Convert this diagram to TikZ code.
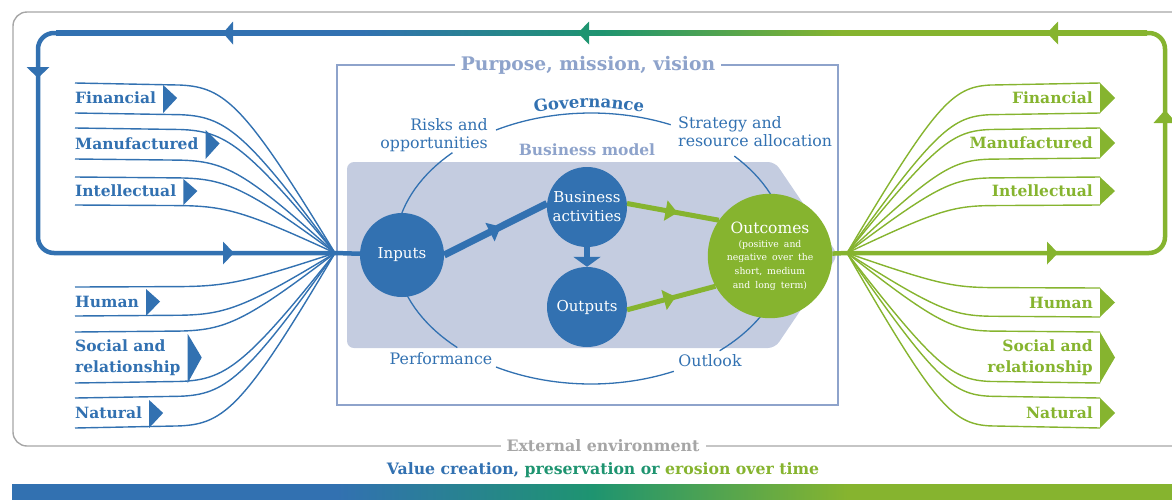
\documentclass[tikz,border=0pt]{standalone}
\usepackage{fontspec}
\setmainfont{DejaVu Serif}
\usetikzlibrary{arrows.meta,calc,decorations.markings,decorations.text}

\definecolor{vcblue}{HTML}{3271B1}
\definecolor{vcteal}{HTML}{1E9470}
\definecolor{vcgreen}{HTML}{86B42F}
\definecolor{pmvline}{HTML}{8EA3CB}
\definecolor{bmfill}{HTML}{C4CCE0}
\definecolor{envgray}{HTML}{A6A6A6}

\pgfdeclarehorizontalshading{valueflow}{100bp}{color(0bp)=(vcblue); color(39bp)=(vcblue); color(50bp)=(vcteal); color(61bp)=(vcgreen); color(100bp)=(vcgreen)}

% capital coming in: name, top, bottom, middle, text
\newcommand\capitalin[5]{%
  \node[capinlabel] (#1) at (75,#4) {#5};
  \draw[capinline] (75,#2) -- (180,{#2+0.012*(253-#2)}) .. controls (225,{#2+0.024*(253-#2)}) and (245,{#2+0.13*(253-#2)}) .. (conv-in);
  \draw[capinline] (75,#3) -- (180,{#3+0.012*(253-#3)}) .. controls (225,{#3+0.024*(253-#3)}) and (245,{#3+0.13*(253-#3)}) .. (conv-in);
  \fill[vcblue] ($(#1.east)+(7,{#2-#4+2})$) -- ($(#1.east)+(21,0)$) -- ($(#1.east)+(7,{#3-#4})$) -- cycle;
}
% capital going out: name, top, bottom, middle, text
\newcommand\capitalout[5]{%
  \node[capoutlabel] (#1) at (1093,#4) {#5};
  \draw[capoutline] (conv-out) .. controls (935,{#2+0.13*(253-#2)}) and (952,{#2+0.024*(253-#2)}) .. (990,{#2+0.012*(253-#2)}) -- (1100,#2);
  \draw[capoutline] (conv-out) .. controls (935,{#3+0.13*(253-#3)}) and (952,{#3+0.024*(253-#3)}) .. (990,{#3+0.012*(253-#3)}) -- (1100,#3);
  \fill[vcgreen] (1100,#2) -- (1115,#4) -- (1100,#3) -- cycle;
}

\begin{document}
\begin{tikzpicture}[x=1pt,y=-1pt,
  capinlabel/.style={anchor=west, inner sep=0pt, align=left, text=vcblue, font=\bfseries\fontsize{15.5}{20.5}\selectfont},
  capoutlabel/.style={anchor=east, inner sep=0pt, align=right, text=vcgreen, font=\bfseries\fontsize{15.5}{20.5}\selectfont},
  capinline/.style={draw=vcblue, line width=1.4pt},
  capoutline/.style={draw=vcgreen, line width=1.4pt},
  loopline/.style={line width=4.5pt, rounded corners=16pt},
  disc/.style={circle, fill=vcblue, text=white, inner sep=0pt, minimum size=80pt, align=center, font=\fontsize{15}{19}\selectfont},
  frametext/.style={fill=white, inner xsep=6pt, inner ysep=0pt},
  aroundtext/.style={text=vcblue, inner sep=2pt, font=\fontsize{15.8}{18}\selectfont},
  govarc/.style={draw=vcblue, line width=1.3pt},
  flow/.style={line width=#1, postaction={decorate}, decoration={markings, mark=at position 0.55 with {\arrow{Triangle[width=20pt,length=12pt]}}}},
]
\useasboundingbox (0,0) rectangle (1172,499);

% external environment
\draw[envgray, line width=1.4pt, rounded corners=14pt] (1190,12) -- (13,12) -- (13,446) -- (1190,446);
\node[frametext, text=envgray, font=\bfseries\fontsize{15.8}{17}\selectfont] (env) at (603,446) {External environment};

% purpose, mission, vision
\draw[pmvline, line width=1.3pt] (337,65) rectangle (838,405);
\node[frametext, text=pmvline, font=\bfseries\fontsize{18.7}{20}\selectfont] (pmv) at (588,65) {Purpose, mission, vision};

% business model
\fill[bmfill, rounded corners=7pt] (775,162) -- (347,162) -- (347,348) -- (775,348) -- (838,255) -- cycle;
\node[text=pmvline, font=\bfseries\fontsize{15.5}{17}\selectfont] (bm) at (587,150) {Business model};

% governance ring
\draw[govarc] plot[domain=66:119, samples=30] ({591+196*cos(\x)},{248.5-135.5*sin(\x)});
\draw[govarc] plot[domain=135:227, samples=40] ({591+196*cos(\x)},{248.5-135.5*sin(\x)});
\draw[govarc] plot[domain=241:295, samples=30] ({591+196*cos(\x)},{248.5-135.5*sin(\x)});
\draw[govarc] plot[domain=311:403, samples=40] ({591+196*cos(\x)},{248.5-135.5*sin(\x)});
\path[decorate, decoration={text along path, text align=center, text color=vcblue,
  text={|\bfseries\fontsize{16.5}{18}\selectfont|Governance}}]
  plot[domain=124:56, samples=40] ({589+200*cos(\x)},{248.5-141*sin(\x)});

\node[aroundtext, anchor=east, align=right] (risks) at (490,135) {Risks and\\opportunities};
\node[aroundtext, anchor=west, align=left] (strategy) at (676,132) {Strategy and\\resource allocation};
\node[aroundtext] (performance) at (441,359) {Performance};
\node[aroundtext] (outlook) at (710,361) {Outlook};

% value creation process
\node[disc, minimum size=84pt] (inputs) at (402,255) {Inputs};
\node[disc] (activities) at (587,207) {Business\\activities};
\node[disc] (outputs) at (587,307) {Outputs};
\node[disc, fill=vcgreen, minimum size=116pt, text width=104pt] (outcomes) at (770,256)
  {\fontsize{15.5}{19}\selectfont Outcomes\par
   {\fontsize{9.3}{13.7}\selectfont (positive and\\negative over the\\short, medium\\and long term)\par}};

\coordinate (conv-in) at (335,253);
\coordinate (conv-out) at (847,253);

\draw[flow=7pt, vcblue] (inputs.east) -- (activities.175);
\draw[line width=6.5pt, vcblue, -{Triangle[width=27pt,length=10pt]}] (activities) -- (outputs);
\draw[flow=5pt, vcgreen] (activities.5) -- (outcomes.145);
\draw[flow=5pt, vcgreen] (outputs.-4) -- (outcomes.209);
\draw[line width=4.5pt, vcblue] (conv-in) -- (inputs);
\draw[line width=4.5pt, vcgreen] (outcomes) -- (conv-out);

% the loop over time
\shade[shading=valueflow] (56,30.75) rectangle (1147,35.25);
\draw[loopline, vcblue] (58,33) -- (38,33) -- (38,253) -- (conv-in);
\draw[loopline, vcgreen] (1145,33) -- (1165,33) -- (1165,253) -- (conv-out);
\fill[vcblue] (233,21.5) -- (223,33) -- (233,44.5) -- cycle;
\fill[vcteal] (589,21.5) -- (578,33) -- (589,44.5) -- cycle;
\fill[vcgreen] (1058,21.5) -- (1047,33) -- (1058,44.5) -- cycle;
\fill[vcblue] (26.5,67) -- (38,78) -- (49.5,67) -- cycle;
\fill[vcblue] (223,241.5) -- (234,253) -- (223,264.5) -- cycle;
\fill[vcgreen] (1047,241.5) -- (1058,253) -- (1047,264.5) -- cycle;
\fill[vcgreen] (1153.5,123) -- (1165,110) -- (1176.5,123) -- cycle;

% capitals
\capitalin{finin}{83}{113}{98}{Financial}
\capitalin{manin}{128}{159}{143.5}{Manufactured}
\capitalin{intin}{177}{205}{191}{Intellectual}
\capitalin{humin}{287}{316}{301.5}{Human}
\capitalin{socin}{332}{383}{357.5}{Social and\\relationship}
\capitalin{natin}{398}{428}{413}{Natural}

\capitalout{finout}{83}{113}{98}{Financial}
\capitalout{manout}{128}{158}{143}{Manufactured}
\capitalout{intout}{177}{205}{191}{Intellectual}
\capitalout{humout}{288}{317}{302.5}{Human}
\capitalout{socout}{332}{383}{357.5}{Social and\\relationship}
\capitalout{natout}{398}{428}{413}{Natural}

% value over time
\node[font=\bfseries\fontsize{15.7}{17}\selectfont] (tagline) at (603,470)
  {\textcolor{vcblue}{Value creation,} \textcolor{vcteal}{preservation or} \textcolor{vcgreen}{erosion over time}};
\shade[shading=valueflow] (12,484) rectangle (1172,499);
\end{tikzpicture}
\end{document}
